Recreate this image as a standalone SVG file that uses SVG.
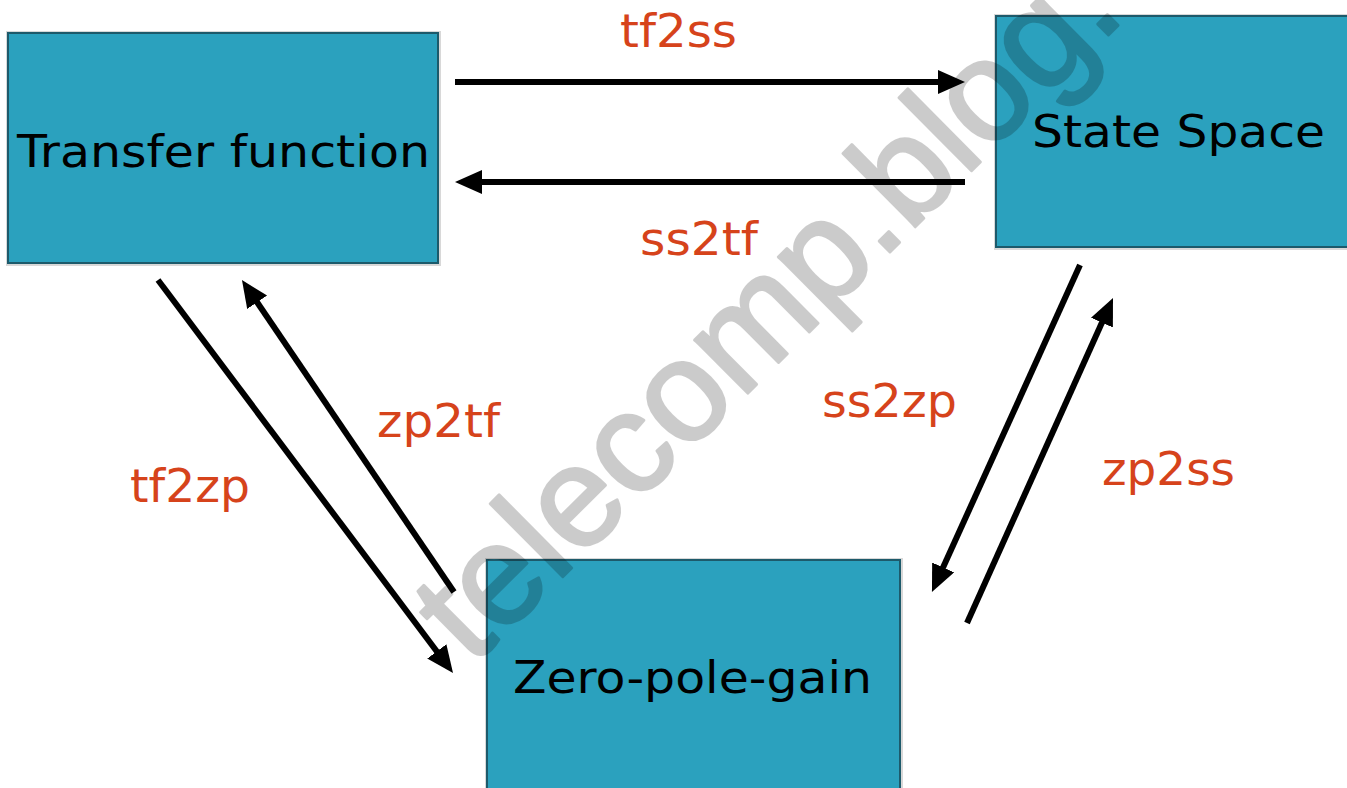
<svg xmlns="http://www.w3.org/2000/svg" width="1347" height="788" viewBox="0 0 1347 788">
<style>
.box{fill:#2ba1be;stroke:#1d5a6b;stroke-width:2}
.shadow{fill:none;stroke:#d8d8d8;stroke-width:2}
.ntext{font-family:"DejaVu Sans",Verdana,sans-serif;font-size:45px;fill:#000}
.lbl{font-family:"DejaVu Sans",Verdana,sans-serif;font-size:46px;fill:#d6431b}
.conn{stroke:#000;stroke-width:6;fill:none;marker-end:url(#ah)}
.wm{font-family:"Liberation Sans",Arial,sans-serif;font-size:142px;fill:#000;stroke:#000;stroke-width:3;stroke-linejoin:round}
</style>
<defs>
<marker id="ah" markerUnits="userSpaceOnUse" markerWidth="28" markerHeight="26" refX="7" refY="12" orient="auto">
<path d="M0,0 L27,12 L0,24 z" fill="#000"/>
</marker>
</defs>
<rect width="1347" height="788" fill="#fff"/>
<g id="transfer-function">
<rect class="shadow" x="7" y="32" width="433" height="233"/>
<rect class="box" x="8" y="33" width="430" height="230"/>
<text class="ntext" x="17" y="167" textLength="413" lengthAdjust="spacingAndGlyphs">Transfer function</text>
</g>
<g id="state-space">
<rect class="shadow" x="995" y="15" width="370" height="234"/>
<rect class="box" x="996" y="16" width="370" height="231"/>
<text class="ntext" x="1032" y="147" textLength="293" lengthAdjust="spacingAndGlyphs">State Space</text>
</g>
<g id="zero-pole-gain">
<rect class="shadow" x="486" y="559" width="416" height="250"/>
<rect class="box" x="487" y="560" width="413" height="250"/>
<text class="ntext" x="513" y="693" textLength="359" lengthAdjust="spacingAndGlyphs">Zero-pole-gain</text>
</g>
<g id="connectors">
<path class="conn" d="M455,82 L945,82"/>
<path class="conn" d="M965,182 L475,182"/>
<path class="conn" d="M158,280 L441,657"/>
<path class="conn" d="M454,592 L253.2,296.5"/>
<path class="conn" d="M1080,265 L940.2,573.8"/>
<path class="conn" d="M967,623 L1104.8,316.2"/>
</g>
<g id="labels">
<text class="lbl" x="620" y="47" textLength="117" lengthAdjust="spacingAndGlyphs">tf2ss</text>
<text class="lbl" x="640" y="255" textLength="118" lengthAdjust="spacingAndGlyphs">ss2tf</text>
<text class="lbl" x="130" y="502" textLength="120" lengthAdjust="spacingAndGlyphs">tf2zp</text>
<text class="lbl" x="377" y="437" textLength="123" lengthAdjust="spacingAndGlyphs">zp2tf</text>
<text class="lbl" x="822" y="417" textLength="135" lengthAdjust="spacingAndGlyphs">ss2zp</text>
<text class="lbl" x="1102" y="485" textLength="133" lengthAdjust="spacingAndGlyphs">zp2ss</text>
</g>
<g id="watermark" opacity="0.2">
<text class="wm" transform="translate(472,667) rotate(-44.8)">telecomp.blog.</text>
</g>
</svg>
